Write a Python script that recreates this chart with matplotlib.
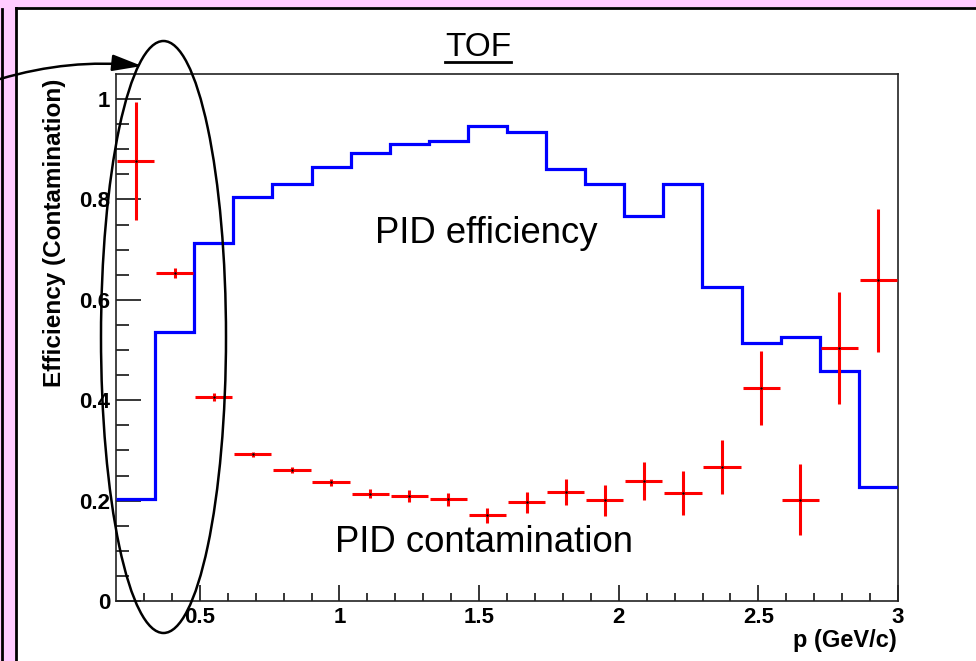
import numpy as np
import matplotlib
matplotlib.use('Agg')
from matplotlib import pyplot as plt
from matplotlib.patches import Rectangle, Ellipse, FancyArrowPatch
from matplotlib.lines import Line2D

# data
edges = [0.20, 0.34, 0.48, 0.62, 0.76, 0.90, 1.04, 1.18, 1.32, 1.46, 1.60,
         1.74, 1.88, 2.02, 2.16, 2.30, 2.44, 2.58, 2.72, 2.86, 3.00]
efficiency = [0.203, 0.536, 0.713, 0.805, 0.831, 0.865, 0.892, 0.910, 0.916,
              0.946, 0.934, 0.861, 0.831, 0.767, 0.831, 0.625, 0.514, 0.526,
              0.458, 0.227]
contamination = [0.877, 0.653, 0.406, 0.292, 0.261, 0.237, 0.214, 0.209,
                 0.203, 0.171, 0.197, 0.217, 0.201, 0.239, 0.215, 0.267,
                 0.424, 0.202, 0.504, 0.639]
contam_err = [0.117, 0.010, 0.008, 0.005, 0.006, 0.007, 0.009, 0.012, 0.013,
              0.015, 0.021, 0.026, 0.031, 0.038, 0.044, 0.054, 0.074, 0.071,
              0.111, 0.143]
yticks = [0, 0.2, 0.4, 0.6, 0.8, 1.0]
ytick_labels = ['0', '0.2', '0.4', '0.6', '0.8', '1']
xticks = [0.5, 1.0, 1.5, 2.0, 2.5, 3.0]
xtick_labels = ['0.5', '1', '1.5', '2', '2.5', '3']

W, H = 976, 661
plt.rcParams['font.family'] = ['Liberation Sans', 'DejaVu Sans']


def fx(px):
    return px / W


def fy(py):
    return 1 - py / H


fig = plt.figure(figsize=(W / 100, H / 100), dpi=100, facecolor='white')

# pink slide frame
pink = '#FFCCFF'
fig.add_artist(Rectangle((0, fy(7)), 1, 7 / H, transform=fig.transFigure,
                         facecolor=pink, edgecolor='none', zorder=-2))
fig.add_artist(Rectangle((0, 0), fx(16), 1, transform=fig.transFigure,
                         facecolor=pink, edgecolor='none', zorder=-2))
fig.add_artist(Line2D([fx(16), 1], [fy(8), fy(8)], transform=fig.transFigure,
                      color='black', lw=2, zorder=-1))
fig.add_artist(Line2D([fx(16), fx(16)], [fy(8), 0], transform=fig.transFigure,
                      color='black', lw=2, zorder=-1))
fig.add_artist(Line2D([fx(1.5), fx(1.5)], [fy(9), 0], transform=fig.transFigure,
                      color='black', lw=2, zorder=-1))

ax = fig.add_axes([fx(116), fy(601), fx(898) - fx(116), fy(74) - fy(601)])

centers = (np.array(edges[:-1]) + np.array(edges[1:])) / 2
halfw = (np.array(edges[1:]) - np.array(edges[:-1])) / 2

ax.stairs(efficiency, edges, baseline=None, color='#0000FF', lw=2.3, zorder=3)
ax.errorbar(centers, contamination, xerr=halfw * 0.95, yerr=contam_err,
            fmt='none', ecolor='#FF0000', elinewidth=2.2, capsize=0, zorder=4)
ax.plot(centers, contamination, 'k.', ms=1.5, zorder=5)

ax.set_xlim(0.2, 3.0)
ax.set_ylim(0, 1.05)
ax.set_xticks(xticks)
ax.set_xticklabels(xtick_labels, fontweight='bold', fontsize=16)
ax.set_yticks(yticks)
ax.set_yticklabels(ytick_labels, fontweight='bold', fontsize=16)
ax.set_xticks(np.arange(0.3, 3.0, 0.1), minor=True)
ax.set_yticks(np.arange(0.05, 1.05, 0.05), minor=True)
ax.tick_params(axis='y', which='major', direction='in', length=18, width=1.1,
               pad=4)
ax.tick_params(axis='y', which='minor', direction='in', length=9, width=1.1)
ax.tick_params(axis='x', which='major', direction='in', length=11.5,
               width=1.1, pad=4)
ax.tick_params(axis='x', which='minor', direction='in', length=6, width=1.1)
for s in ax.spines.values():
    s.set_linewidth(1.2)
    s.set_color('#222222')

# labels
fig.text(fx(897), fy(640), 'p (GeV/c)', ha='right', va='center',
         fontweight='bold', fontsize=17)
fig.text(fx(55), fy(233), 'Efficiency (Contamination)', ha='center',
         va='center', rotation=90, fontweight='bold', fontsize=17.5)

fig.text(fx(478), fy(56), 'TOF', ha='center', va='baseline', fontsize=24)
fig.add_artist(Line2D([fx(445), fx(511)], [fy(62), fy(62)],
                      transform=fig.transFigure, color='black', lw=2))
fig.text(fx(375), fy(243), 'PID efficiency', ha='left', va='baseline',
         fontsize=26.3)
fig.text(fx(335), fy(552), 'PID contamination', ha='left', va='baseline',
         fontsize=26.3)

# ellipse and arrow
fig.add_artist(Ellipse((fx(163.5), fy(337)), 125 / W, 592 / H,
                       transform=fig.transFigure, fill=False,
                       edgecolor='black', lw=1.8, zorder=10))
fig.add_artist(FancyArrowPatch((fx(0), fy(79)), (fx(142), fy(66)),
                               transform=fig.transFigure,
                               connectionstyle='arc3,rad=-0.1',
                               arrowstyle='-|>,head_length=18,head_width=5',
                               mutation_scale=1, shrinkA=0, shrinkB=0,
                               color='black', lw=1.8, zorder=10))

fig.savefig('out.png', dpi=100)
